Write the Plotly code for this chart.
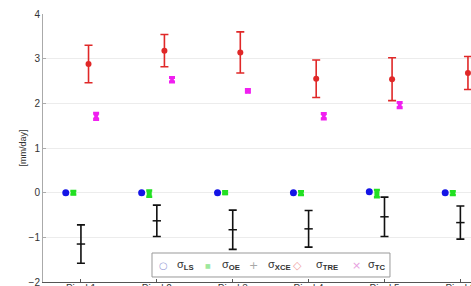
import plotly.graph_objects as go

pixels = ["Pixel 1", "Pixel 2", "Pixel 3", "Pixel 4", "Pixel 5", "Pixel 6"]
pos = [1, 2, 3, 4, 5, 6]

ls_val = [0.0, 0.0, 0.0, 0.0, 0.02, 0.0]
oe_val = [0.0, -0.02, 0.0, -0.01, -0.02, -0.01]
oe_err = [0.04, 0.07, 0.03, 0.04, 0.08, 0.04]
xce_val = [-1.15, -0.63, -0.83, -0.81, -0.54, -0.67]
xce_err = [0.43, 0.35, 0.44, 0.41, 0.44, 0.37]
tre_val = [2.88, 3.18, 3.14, 2.55, 2.54, 2.68]
tre_err = [0.42, 0.36, 0.46, 0.42, 0.48, 0.37]
tc_val = [1.71, 2.53, 2.28, 1.71, 1.96, 1.90]
tc_err = [0.07, 0.05, 0.03, 0.06, 0.06, 0.05]

legend_names = ["σ<sub><b>LS</b></sub>", "σ<sub><b>OE</b></sub>", "σ<sub><b>XCE</b></sub>",
                "σ<sub><b>TRE</b></sub>", "σ<sub><b>TC</b></sub>"]
legend_glyphs = ["○", "■", "+", "◇", "×"]

offsets = {"LS": -0.2, "OE": -0.1, "XCE": 0.0, "TRE": 0.1, "TC": 0.2}

def xs(key):
    return [p + offsets[key] for p in pos]

font = "Liberation Sans, Arial, sans-serif"
fig = go.Figure()

fig.add_trace(go.Scatter(x=xs("LS"), y=ls_val, mode="markers", showlegend=False,
                         marker=dict(symbol="circle", size=7, color="#1414e6")))
fig.add_trace(go.Scatter(x=xs("OE"), y=oe_val, mode="markers", showlegend=False,
                         marker=dict(symbol="square", size=5, color="#22e022"),
                         error_y=dict(type="data", array=oe_err, color="#22e022", thickness=2.5, width=3)))
fig.add_trace(go.Scatter(x=xs("XCE"), y=xce_val, mode="markers", showlegend=False,
                         marker=dict(symbol="line-ew", size=6, line=dict(color="#111111", width=1.5)),
                         error_y=dict(type="data", array=xce_err, color="#111111", thickness=1.6, width=4)))
fig.add_trace(go.Scatter(x=xs("TRE"), y=tre_val, mode="markers", showlegend=False,
                         marker=dict(symbol="circle", size=6, color="#e02828"),
                         error_y=dict(type="data", array=tre_err, color="#e02828", thickness=1.6, width=4)))
fig.add_trace(go.Scatter(x=xs("TC"), y=tc_val, mode="markers", showlegend=False,
                         marker=dict(symbol="x", size=5, color="#f020f0"),
                         error_y=dict(type="data", array=tc_err, color="#f020f0", thickness=3, width=3)))

# manual legend (paper coordinates)
fig.add_shape(type="rect", xref="paper", yref="paper", x0=0.2547, x1=0.8107, y0=0.0187, y1=0.1082,
              fillcolor="white", line=dict(color="#999999", width=1), layer="above")
glyph_x = [0.2804, 0.3855, 0.4907, 0.5935, 0.7336]
glyph_col = ["#9aa0d8", "#9ee89e", "#a8a8a8", "#f0a0a0", "#e8a0e0"]
glyph_size = [10, 6, 11, 11, 11]
text_x = [0.3084, 0.4130, 0.5220, 0.6325, 0.7547]
for gx, g, gc, gs, tx, nm in zip(glyph_x, legend_glyphs, glyph_col, glyph_size, text_x, legend_names):
    fig.add_annotation(x=gx, y=0.0634, xref="paper", yref="paper", text=g, showarrow=False,
                       font=dict(size=gs, color=gc, family="DejaVu Sans"), xanchor="center", yanchor="middle")
    fig.add_annotation(x=tx, y=0.0634, xref="paper", yref="paper", text=nm, showarrow=False,
                       font=dict(size=11, color="#333333", family=font), xanchor="left", yanchor="middle")

fig.update_layout(
    width=471, height=286,
    margin=dict(l=43, r=0, t=14, b=4, autoexpand=False),
    paper_bgcolor="white", plot_bgcolor="white",
    font=dict(family=font, size=10, color="#333333"),
    showlegend=False,
)
fig.update_xaxes(range=[0.5, 6.14], tickvals=pos, ticktext=pixels, showgrid=False,
                 zeroline=False, showline=True, linecolor="#555555", linewidth=1,
                 ticks="inside", ticklen=3, tickcolor="#555555", automargin=False,
                 ticklabeloverflow="allow", ticklabelstandoff=-3,
                 tickfont=dict(size=10, color="#333333"))
fig.update_yaxes(range=[-2, 4], dtick=1, showgrid=True, gridcolor="#ececec",
                 zeroline=False, showline=True, linecolor="#aaaaaa", linewidth=1,
                 ticks="inside", ticklen=3, tickcolor="#aaaaaa", automargin=False,
                 ticklabeloverflow="allow", tickfont=dict(size=10, color="#333333"),
                 title=dict(text="[mm/day]", font=dict(size=9, color="#333333"), standoff=0))

fig.write_html("out.html")
